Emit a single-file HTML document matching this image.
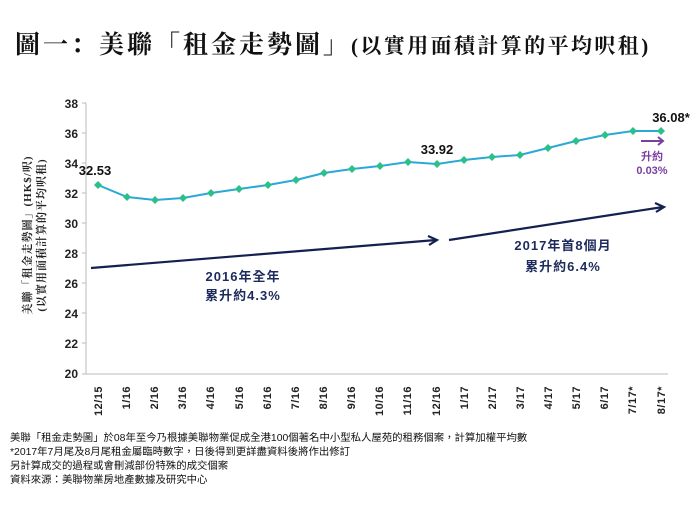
<!DOCTYPE html>
<html><head><meta charset="utf-8"><style>
body{margin:0;background:#fff;width:700px;height:525px;overflow:hidden}
</style></head><body>
<svg width="700" height="525" xmlns="http://www.w3.org/2000/svg" font-family="'Liberation Sans','Noto Sans CJK TC',sans-serif">
<text x="15" y="53" font-family="'Liberation Serif','Noto Serif CJK SC',serif" font-size="25" letter-spacing="3" font-weight="bold" fill="#111">圖一：美聯「租金走勢圖」<tspan font-size="21" letter-spacing="2.4">(以實用面積計算的平均呎租)</tspan></text>
<g stroke="#bbb" stroke-width="1">
<line x1="86" y1="103" x2="86" y2="374"/>
<line x1="86" y1="374" x2="668" y2="374"/>
</g>
<g font-size="12" font-weight="bold" fill="#222" text-anchor="end">
<text x="78" y="108">38</text><text x="78" y="138">36</text><text x="78" y="168">34</text><text x="78" y="198">32</text><text x="78" y="228">30</text><text x="78" y="258">28</text><text x="78" y="288">26</text><text x="78" y="318">24</text><text x="78" y="348">22</text><text x="78" y="378">20</text>
</g>
<g stroke="#bbb"><line x1="82" y1="103" x2="86" y2="103"/><line x1="82" y1="133" x2="86" y2="133"/><line x1="82" y1="163" x2="86" y2="163"/><line x1="82" y1="193" x2="86" y2="193"/><line x1="82" y1="223" x2="86" y2="223"/><line x1="82" y1="253" x2="86" y2="253"/><line x1="82" y1="283" x2="86" y2="283"/><line x1="82" y1="313" x2="86" y2="313"/><line x1="82" y1="343" x2="86" y2="343"/><line x1="82" y1="374" x2="86" y2="374"/></g>
<g font-size="11" font-weight="bold" fill="#222" text-anchor="end" letter-spacing="0.5">
<text transform="translate(102,386) rotate(-90)">12/15</text>
<text transform="translate(130,386) rotate(-90)">1/16</text>
<text transform="translate(158,386) rotate(-90)">2/16</text>
<text transform="translate(186,386) rotate(-90)">3/16</text>
<text transform="translate(214,386) rotate(-90)">4/16</text>
<text transform="translate(243,386) rotate(-90)">5/16</text>
<text transform="translate(271,386) rotate(-90)">6/16</text>
<text transform="translate(299,386) rotate(-90)">7/16</text>
<text transform="translate(327,386) rotate(-90)">8/16</text>
<text transform="translate(355,386) rotate(-90)">9/16</text>
<text transform="translate(383,386) rotate(-90)">10/16</text>
<text transform="translate(411,386) rotate(-90)">11/16</text>
<text transform="translate(440,386) rotate(-90)">12/16</text>
<text transform="translate(468,386) rotate(-90)">1/17</text>
<text transform="translate(496,386) rotate(-90)">2/17</text>
<text transform="translate(524,386) rotate(-90)">3/17</text>
<text transform="translate(552,386) rotate(-90)">4/17</text>
<text transform="translate(580,386) rotate(-90)">5/17</text>
<text transform="translate(608,386) rotate(-90)">6/17</text>
<text transform="translate(636,386) rotate(-90)">7/17*</text>
<text transform="translate(665,386) rotate(-90)">8/17*</text>
</g>
<g font-size="11" font-weight="bold" fill="#222" text-anchor="middle" font-family="'Liberation Serif','Noto Serif CJK SC',serif" letter-spacing="1">
<text transform="translate(31,235) rotate(-90)">美聯「租金走勢圖」(HK$/呎)</text>
<text transform="translate(45,235) rotate(-90)">(以實用面積計算的平均呎租)</text>
</g>
<polyline fill="none" stroke="#2aa8d8" stroke-width="2" points="98,185 127,197 155,200 183,198 211,193 239,189 268,185 296,180 324,173 352,169 380,166 408,162 437,164 464,160 492,157 520,155 548,148 576,141 605,135 633,131 661,131"/>
<g fill="#2bbf8a">
<path d="M98,181l4,4-4,4-4-4z"/><path d="M127,193l4,4-4,4-4-4z"/><path d="M155,196l4,4-4,4-4-4z"/><path d="M183,194l4,4-4,4-4-4z"/><path d="M211,189l4,4-4,4-4-4z"/><path d="M239,185l4,4-4,4-4-4z"/><path d="M268,181l4,4-4,4-4-4z"/><path d="M296,176l4,4-4,4-4-4z"/><path d="M324,169l4,4-4,4-4-4z"/><path d="M352,165l4,4-4,4-4-4z"/><path d="M380,162l4,4-4,4-4-4z"/><path d="M408,158l4,4-4,4-4-4z"/><path d="M437,160l4,4-4,4-4-4z"/><path d="M464,156l4,4-4,4-4-4z"/><path d="M492,153l4,4-4,4-4-4z"/><path d="M520,151l4,4-4,4-4-4z"/><path d="M548,144l4,4-4,4-4-4z"/><path d="M576,137l4,4-4,4-4-4z"/><path d="M605,131l4,4-4,4-4-4z"/><path d="M633,127l4,4-4,4-4-4z"/><path d="M661,127l4,4-4,4-4-4z"/>
</g>
<g font-size="13" font-weight="bold" fill="#111" text-anchor="middle">
<text x="95" y="175">32.53</text><text x="437" y="154">33.92</text><text x="671" y="122">36.08*</text>
</g>
<g stroke="#14204f" stroke-width="2.2" fill="none">
<line x1="91" y1="268" x2="436" y2="240"/><polyline points="428,236 437,240 429,245"/>
<line x1="449" y1="240" x2="663" y2="207"/><polyline points="655,203 664,207 656,212"/>
</g>
<g stroke="#7b3fa0" stroke-width="2" fill="none"><line x1="641" y1="141" x2="663" y2="141"/><polyline points="658,137 663,141 658,145"/></g>
<g font-size="11" font-weight="bold" fill="#7b3fa0" text-anchor="middle"><text x="652" y="160">升約</text><text x="652" y="174">0.03%</text></g>
<g font-size="13" font-weight="bold" fill="#1d2a5c" text-anchor="middle" letter-spacing="1">
<text x="243" y="281">2016年全年</text><text x="243" y="300">累升約4.3%</text>
<text x="563" y="250">2017年首8個月</text><text x="563" y="271">累升約6.4%</text>
</g>
<g font-size="10.4" fill="#111">
<text x="10" y="441">美聯「租金走勢圖」於08年至今乃根據美聯物業促成全港100個著名中小型私人屋苑的租務個案，計算加權平均數</text>
<text x="10" y="455">*2017年7月尾及8月尾租金屬臨時數字，日後得到更詳盡資料後將作出修訂</text>
<text x="10" y="469">另計算成交的過程或會刪減部份特殊的成交個案</text>
<text x="10" y="483">資料來源：美聯物業房地產數據及研究中心</text>
</g>
</svg>
</body></html>
